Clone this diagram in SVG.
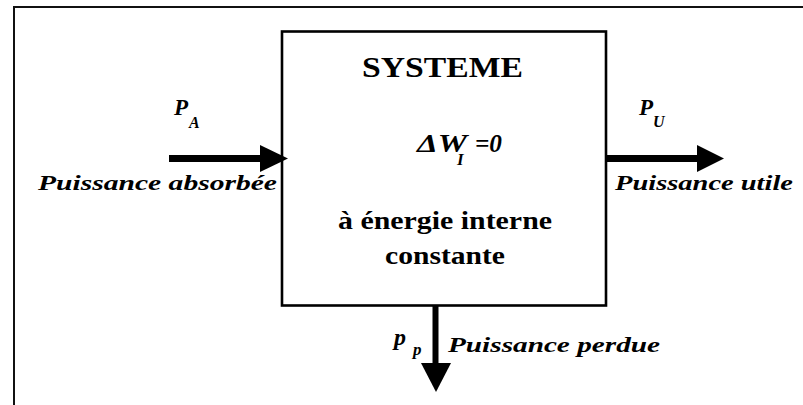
<svg xmlns="http://www.w3.org/2000/svg" width="803" height="405" viewBox="0 0 803 405">
<style>
.lbl{font-family:"Liberation Serif","Times New Roman",serif;font-weight:bold;font-style:italic;fill:#000}
.bt{font-family:"Liberation Serif","Times New Roman",serif;font-weight:bold;fill:#000}
.ln{stroke:#000;fill:none}
.hd{fill:#000;stroke:none}
</style>
<rect width="803" height="405" fill="#fff"/>
<path d="M14,405 V7 H803" fill="none" stroke="#111" stroke-width="2"/>
<g id="systeme">
<rect x="282" y="31.5" width="324" height="274" fill="#fff" stroke="#000" stroke-width="2.6"/>
<text class="bt" x="362" y="77" font-size="29" textLength="161" lengthAdjust="spacingAndGlyphs">SYSTEME</text>
<text class="lbl" x="417" y="152" font-size="26" textLength="50" lengthAdjust="spacingAndGlyphs">ΔW</text>
<text class="lbl" x="457" y="165" font-size="17">I</text>
<text class="lbl" x="475" y="152" font-size="26" textLength="27" lengthAdjust="spacingAndGlyphs">=0</text>
<text class="bt" x="338" y="229" font-size="26" textLength="214" lengthAdjust="spacingAndGlyphs">à énergie interne</text>
<text class="bt" x="385" y="264" font-size="26" textLength="120" lengthAdjust="spacingAndGlyphs">constante</text>
</g>
<g id="connectors">
<g id="in-arrow">
<line class="ln" x1="169" y1="158.5" x2="262" y2="158.5" stroke-width="7"/>
<polygon class="hd" points="260,145 288,158.5 260,172"/>
</g>
<g id="out-arrow">
<line class="ln" x1="606" y1="158.5" x2="699" y2="158.5" stroke-width="7"/>
<polygon class="hd" points="697,145 724,158.5 697,172"/>
</g>
<g id="loss-arrow">
<line class="ln" x1="435.5" y1="306" x2="435.5" y2="365" stroke-width="6"/>
<polygon class="hd" points="421,363 451,363 436,392"/>
</g>
</g>
<g id="label-absorbee">
<text class="lbl" x="174" y="115" font-size="23">P</text>
<text class="lbl" x="189" y="128" font-size="16">A</text>
<text class="lbl" x="38" y="190" font-size="22" textLength="239" lengthAdjust="spacingAndGlyphs">Puissance absorbée</text>
</g>
<g id="label-utile">
<text class="lbl" x="639" y="115" font-size="23">P</text>
<text class="lbl" x="653" y="127" font-size="16">U</text>
<text class="lbl" x="615" y="190" font-size="22" textLength="178" lengthAdjust="spacingAndGlyphs">Puissance utile</text>
</g>
<g id="label-perdue">
<text class="lbl" x="394" y="345" font-size="24">p</text>
<text class="lbl" x="413" y="355" font-size="17">p</text>
<text class="lbl" x="448" y="352" font-size="22" textLength="212" lengthAdjust="spacingAndGlyphs">Puissance perdue</text>
</g>
</svg>
